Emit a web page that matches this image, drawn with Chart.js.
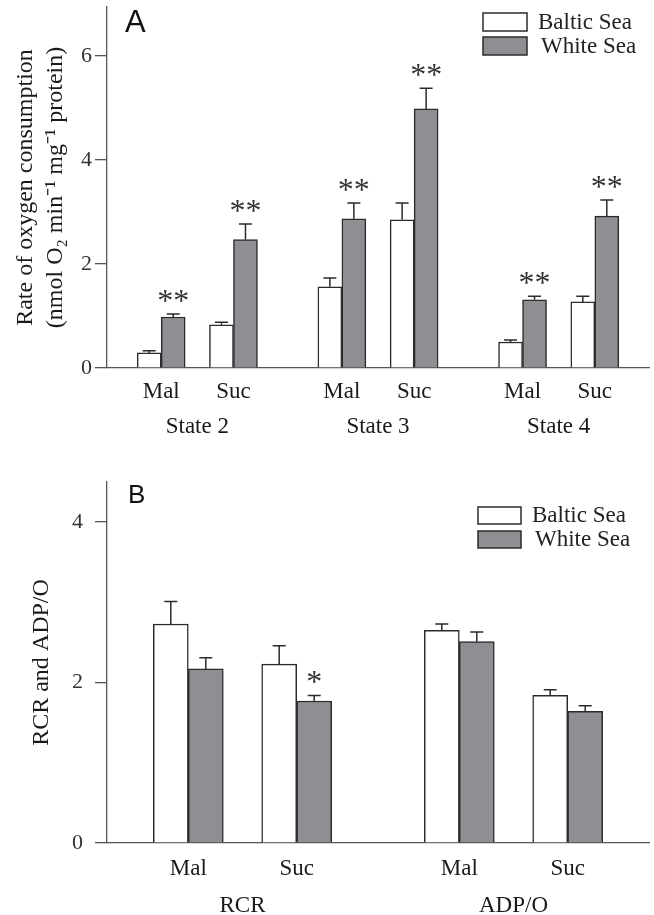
<!DOCTYPE html>
<html>
<head>
<meta charset="utf-8">
<script src="https://cdn.jsdelivr.net/npm/chart.js@4.4.1/dist/chart.umd.min.js"></script>
<style>
  body { margin: 0; background: #fff; }
  #wrap { position: relative; width: 654px; height: 915px; }
  canvas { position: absolute; left: 0; }
</style>
</head>
<body>
<div id="wrap">
  <canvas id="chartA" width="654" height="450" style="top:0px"></canvas>
  <canvas id="chartB" width="654" height="460" style="top:455px"></canvas>
</div>
<script>
// ---- panel A : rate of oxygen consumption ----
const statesA = ['State 2', 'State 3', 'State 4'];
const substratesA = ['Mal', 'Suc', 'Mal', 'Suc', 'Mal', 'Suc'];
const balticRate = [0.29, 0.83, 1.56, 2.85, 0.50, 1.27];
const balticRateErr = [0.04, 0.05, 0.17, 0.32, 0.04, 0.11];
const whiteRate = [0.98, 2.47, 2.87, 4.98, 1.31, 2.92];
const whiteRateErr = [0.06, 0.30, 0.30, 0.40, 0.07, 0.31];
const whiteRateStars = ['**', '**', '**', '**', '**', '**'];
const rateTicks = [0, 2, 4, 6];

// ---- panel B : RCR and ADP/O ----
const groupsB = ['RCR', 'ADP/O'];
const substratesB = ['Mal', 'Suc', 'Mal', 'Suc'];
const balticRatio = [2.73, 2.23, 2.65, 1.84];
const balticRatioErr = [0.28, 0.23, 0.08, 0.07];
const whiteRatio = [2.17, 1.77, 2.51, 1.64];
const whiteRatioErr = [0.14, 0.07, 0.12, 0.07];
const whiteRatioStars = ['', '*', '', ''];
const ratioTicks = [0, 2, 4];

const seriesNames = ['Baltic Sea', 'White Sea'];

// slot layout on the category axis (gaps between the groups)
const slotsA = { count: 15, bars: [1, 3, 6, 8, 11, 13], groups: [2, 7, 12] };
const slotsB = { count: 10, bars: [1, 3, 6, 8], groups: [2, 7] };

const GREY = '#8e8f93';
const EDGE = '#2b2b2b';
const AXIS = '#555';
const SERIF = 'Liberation Serif';

function spread(values, slots) {
  let out = new Array(slots.count).fill(null);
  slots.bars.forEach((s, i) => { out[s] = values[i]; });
  return out;
}

function slotLabels(subs, groups, slots) {
  let out = new Array(slots.count).fill('');
  slots.bars.forEach((s, i) => { out[s] = subs[i]; });
  slots.groups.forEach((s, i) => { out[s] = ['', groups[i]]; });
  return out;
}

// error bars + significance stars
const errorBars = {
  id: 'errorBars',
  afterDatasetsDraw(chart) {
    const ctx = chart.ctx;
    const y = chart.scales.y;
    chart.data.datasets.forEach((ds, di) => {
      const meta = chart.getDatasetMeta(di);
      meta.data.forEach((bar, i) => {
        const v = ds.data[i];
        if (v === null) return;
        const top = y.getPixelForValue(v + ds.errors[i]);
        ctx.save();
        ctx.strokeStyle = EDGE;
        ctx.lineWidth = 1.5;
        ctx.beginPath();
        ctx.moveTo(bar.x, bar.y);
        ctx.lineTo(bar.x, top);
        ctx.moveTo(bar.x - 6.5, top);
        ctx.lineTo(bar.x + 6.5, top);
        ctx.stroke();
        if (ds.stars && ds.stars[i]) {
          ctx.fillStyle = '#333';
          ctx.font = '32px "' + SERIF + '"';
          ctx.textAlign = 'center';
          ctx.textBaseline = 'alphabetic';
          ctx.fillText(ds.stars[i], bar.x, top - 3);
        }
        ctx.restore();
      });
    });
  }
};

// panel letter and boxed legend drawn inside the plot
const panelDecor = {
  id: 'panelDecor',
  afterDraw(chart, args, opts) {
    const ctx = chart.ctx;
    ctx.save();
    ctx.fillStyle = '#111';
    ctx.font = opts.letterSize + 'px "Liberation Sans"';
    ctx.textBaseline = 'alphabetic';
    ctx.textAlign = 'left';
    ctx.fillText(opts.letter, opts.letterX, opts.letterY);

    const lg = opts.legend;
    chart.data.datasets.forEach((ds, i) => {
      const by = lg.y + i * lg.step;
      ctx.fillStyle = ds.backgroundColor;
      ctx.fillRect(lg.x, by, lg.w, lg.h);
      ctx.strokeStyle = EDGE;
      ctx.lineWidth = 1.5;
      ctx.strokeRect(lg.x, by, lg.w, lg.h);
      ctx.fillStyle = '#222';
      ctx.font = lg.size + 'px "' + SERIF + '"';
      ctx.fillText(ds.label, lg.x + lg.w + 11 + i * 3, by + lg.h - 2);
    });
    ctx.restore();
  }
};

function makeChart(id, cfg) {
  return new Chart(document.getElementById(id), {
    type: 'bar',
    data: {
      labels: cfg.labels,
      datasets: [
        {
          label: seriesNames[0],
          data: cfg.baltic,
          errors: cfg.balticErr,
          backgroundColor: '#ffffff',
          borderColor: EDGE,
          borderWidth: 1.5,
          barThickness: cfg.barW
        },
        {
          label: seriesNames[1],
          data: cfg.white,
          errors: cfg.whiteErr,
          stars: cfg.stars,
          backgroundColor: GREY,
          borderColor: EDGE,
          borderWidth: 1.5,
          barThickness: cfg.barW
        }
      ]
    },
    options: {
      responsive: false,
      animation: false,
      layout: { padding: { top: cfg.padTop, right: 5, left: 0, bottom: 0 } },
      plugins: {
        legend: { display: false },
        tooltip: { enabled: false },
        panelDecor: cfg.decor
      },
      scales: {
        x: {
          ticks: {
            color: '#1a1a1a',
            autoSkip: false,
            maxRotation: 0,
            padding: cfg.xPad,
            font: { family: SERIF, size: 23, lineHeight: cfg.xLine }
          },
          grid: { display: false },
          border: { display: true, color: AXIS, width: 1.3 },
          afterFit: (s) => { s.height = cfg.xHeight; }
        },
        y: {
          min: 0,
          max: cfg.yMax,
          afterBuildTicks: (s) => { s.ticks = cfg.yTicks.map(v => ({ value: v })); },
          ticks: {
            color: '#333',
            padding: cfg.yPad,
            font: { family: SERIF, size: 22 }
          },
          grid: { drawOnChartArea: false, tickLength: 12, color: AXIS, lineWidth: 1.3 },
          border: { display: true, color: AXIS, width: 1.3 },
          title: {
            display: true,
            text: cfg.yTitle,
            color: '#1a1a1a',
            padding: { top: cfg.titlePad, bottom: 0 },
            font: { family: SERIF, size: 24, lineHeight: cfg.titleLine }
          },
          afterFit: (s) => {
            s.width = 107;
            s.paddingTop = 0;
            s.paddingBottom = 0;
          }
        }
      }
    },
    plugins: [errorBars, panelDecor]
  });
}

makeChart('chartA', {
  labels: slotLabels(substratesA, statesA, slotsA),
  baltic: spread(balticRate, slotsA),
  balticErr: spread(balticRateErr, slotsA),
  white: spread(whiteRate, slotsA),
  whiteErr: spread(whiteRateErr, slotsA),
  stars: spread(whiteRateStars, slotsA),
  barW: 24,
  padTop: 7,
  xHeight: 82,
  xPad: -2,
  xLine: 35 / 23,
  yMax: 6.94,
  yTicks: rateTicks,
  yPad: 3,
  yTitle: ['Rate of oxygen consumption', '(nmol O\u2082 min\u207B\u00B9 mg\u207B\u00B9 protein)'],
  titlePad: 11,
  titleLine: 30 / 24,
  decor: {
    letter: 'A', letterX: 125, letterY: 32, letterSize: 31,
    legend: { x: 483, y: 13, w: 44, h: 18, step: 24, size: 23 }
  }
});

makeChart('chartB', {
  labels: slotLabels(substratesB, groupsB, slotsB),
  baltic: spread(balticRatio, slotsB),
  balticErr: spread(balticRatioErr, slotsB),
  white: spread(whiteRatio, slotsB),
  whiteErr: spread(whiteRatioErr, slotsB),
  stars: spread(whiteRatioStars, slotsB),
  barW: 35,
  padTop: 27,
  xHeight: 72,
  xPad: -1,
  xLine: 37 / 23,
  yMax: 4.5,
  yTicks: ratioTicks,
  yPad: 12,
  yTitle: 'RCR and ADP/O',
  titlePad: 27,
  titleLine: 1.2,
  decor: {
    letter: 'B', letterX: 128, letterY: 48, letterSize: 26,
    legend: { x: 478, y: 52, w: 43, h: 17, step: 24, size: 23 }
  }
});
</script>
</body>
</html>
